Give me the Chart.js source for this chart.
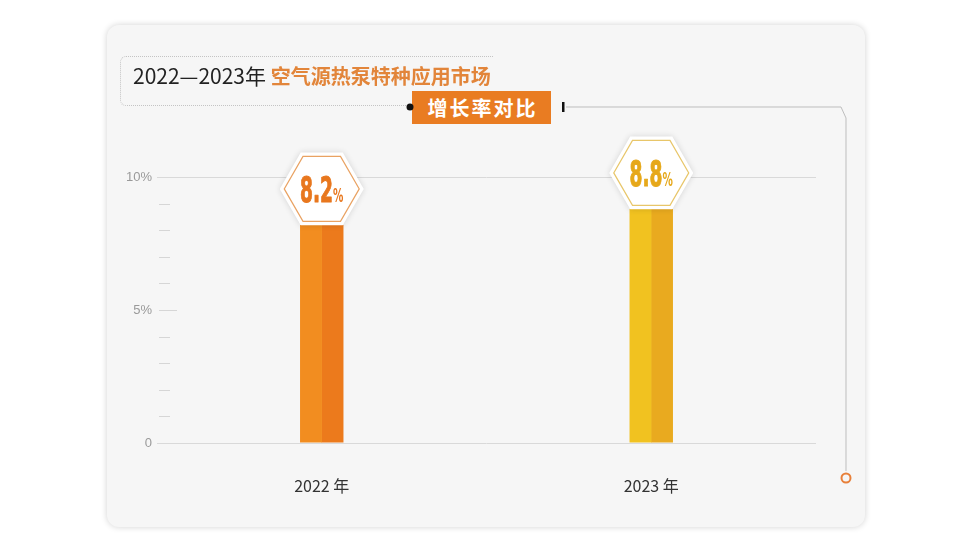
<!DOCTYPE html>
<html><head><meta charset="utf-8">
<script src="https://cdn.jsdelivr.net/npm/chart.js@4.4.1/dist/chart.umd.min.js"></script>
<style>
html,body{margin:0;padding:0;background:#fff;}
#wrap{position:relative;width:960px;height:540px;overflow:hidden;font-family:"Noto Sans CJK SC","Noto Sans",sans-serif;}
.card{position:absolute;left:107px;top:25px;width:758px;height:502px;background:#f6f6f6;border-radius:12px;box-shadow:0 0 6px rgba(0,0,0,0.18);}
#c{position:absolute;left:0;top:0;}
svg{position:absolute;left:0;top:0;}
.titlebox{position:absolute;left:120px;top:56px;width:373px;height:50px;border:1px dotted #c4c4c4;border-right:none;border-radius:6px 0 0 6px;box-sizing:border-box;}
.title{position:absolute;left:133px;top:61px;font-size:21px;color:#222;white-space:nowrap;line-height:28px;}
.title span{color:#e2853a;font-weight:700;font-size:20px;}
.tag{position:absolute;left:412px;top:91px;width:139px;height:33px;background:#e97c22;color:#fff;font-size:20px;font-weight:700;line-height:33px;text-align:center;letter-spacing:2px;text-indent:2px;}
</style>
</head>
<body>
<div id="wrap">
  <div class="card"></div>
  <canvas id="c" width="960" height="540"></canvas>
  <div class="titlebox"></div>
  <div class="title">2022—2023年 <span>空气源热泵特种应用市场</span></div>
  <div class="tag">增长率对比</div>
  <svg width="960" height="540">
    <polyline points="566,107 841,107 846,118 846,471" fill="none" stroke="#bdbdbd" stroke-width="1"/>
    <circle cx="410" cy="107" r="3.5" fill="#111"/>
    <rect x="562" y="102" width="2.5" height="10" fill="#111"/>
    <circle cx="846" cy="478" r="4.5" fill="none" stroke="#e8803a" stroke-width="2"/>
  </svg>
</div>
<script>
const categories = ['2022 年', '2023 年'];
const growthRate = [8.2, 8.8];
const yTickLabels = {0: '0', 5: '5%', 10: '10%'};

const palette = {
  left: ['#f28d20', '#f1c220'],
  right: ['#ec7a1c', '#e9aa1f'],
  label: ['#e8771e', '#e6a81a'],
  hexStroke: ['#e9a262', '#e8c66a']
};

function hexPath(ctx, cx, cy, r) {
  ctx.beginPath();
  for (let k = 0; k < 6; k++) {
    const a = Math.PI / 3 * k;
    const x = cx + r * Math.cos(a), y = cy + r * Math.sin(a);
    if (k === 0) ctx.moveTo(x, y); else ctx.lineTo(x, y);
  }
  ctx.closePath();
}

const minorTicks = {
  id: 'minorTicks',
  beforeDatasetsDraw(chart) {
    const ctx = chart.ctx, ys = chart.scales.y, left = chart.chartArea.left;
    ctx.save();
    ctx.strokeStyle = '#d6d6d6';
    ctx.lineWidth = 1;
    for (let v = 1; v <= 9; v++) {
      const y = Math.round(ys.getPixelForValue(v)) + 0.5;
      ctx.beginPath();
      ctx.moveTo(left + 2, y);
      ctx.lineTo(left + (v === 5 ? 20 : 13), y);
      ctx.stroke();
    }
    ctx.restore();
  }
};

const NUM_FONT = '"Liberation Sans Narrow", "DejaVu Sans Condensed", "DejaVu Sans"';
const hexLabels = {
  id: 'hexLabels',
  afterDatasetsDraw(chart) {
    const ctx = chart.ctx;
    const m0 = chart.getDatasetMeta(0), m1 = chart.getDatasetMeta(1);
    m0.data.forEach((b0, i) => {
      const b1 = m1.data[i];
      const cx = ((b0.x - b0.width / 2) + (b1.x + b1.width / 2)) / 2;
      const top = Math.min(b0.y, b1.y);
      const cy = top - 36;
      ctx.save();
      ctx.shadowColor = 'rgba(0,0,0,0.14)';
      ctx.shadowBlur = 6;
      hexPath(ctx, cx, cy, 42);
      ctx.fillStyle = '#ffffff';
      ctx.fill();
      ctx.restore();
      ctx.save();
      hexPath(ctx, cx, cy, 37.5);
      ctx.strokeStyle = palette.hexStroke[i];
      ctx.lineWidth = 1.2;
      ctx.stroke();
      const num = growthRate[i].toFixed(1);
      ctx.fillStyle = palette.label[i];
      ctx.strokeStyle = palette.label[i];
      ctx.lineWidth = 1;
      ctx.lineJoin = 'round';
      ctx.textBaseline = 'alphabetic';
      ctx.font = 'bold 36px ' + NUM_FONT;
      const wn = ctx.measureText(num).width;
      const targetW = 33;
      const sx = targetW / wn;
      ctx.font = 'bold 20px ' + NUM_FONT;
      const wp = ctx.measureText('%').width;
      const total = targetW + wp * sx;
      const x0 = cx - total / 2;
      const base = cy + 13;
      ctx.translate(x0, base);
      ctx.scale(sx, 1);
      ctx.font = 'bold 36px ' + NUM_FONT;
      ctx.fillText(num, 0, 0);
      ctx.strokeText(num, 0, 0);
      ctx.font = 'bold 20px ' + NUM_FONT;
      ctx.fillText('%', wn, 0);
      ctx.restore();
    });
  }
};

new Chart(document.getElementById('c'), {
  type: 'bar',
  data: {
    labels: categories,
    datasets: [
      {data: growthRate, backgroundColor: palette.left, borderWidth: 0, barPercentage: 1.02, categoryPercentage: 0.1305},
      {data: growthRate, backgroundColor: palette.right, borderWidth: 0, barPercentage: 1.02, categoryPercentage: 0.1305}
    ]
  },
  options: {
    responsive: false,
    animation: false,
    devicePixelRatio: 1,
    layout: {padding: {top: 177, right: 144, bottom: 0, left: 0}},
    plugins: {legend: {display: false}, tooltip: {enabled: false}},
    scales: {
      x: {
        grid: {display: false},
        border: {display: false},
        ticks: {color: '#333', padding: 25, font: {size: 16, family: '"Noto Sans CJK SC", "Noto Sans", sans-serif'}},
        afterFit: s => { s.height = 97; }
      },
      y: {
        min: 0, max: 10,
        border: {display: false},
        grid: {
          drawTicks: false,
          color: c => (c.tick && (c.tick.value === 0 || c.tick.value === 10)) ? '#d9d9d9' : 'rgba(0,0,0,0)'
        },
        ticks: {
          stepSize: 1,
          padding: 5,
          color: '#9a9a9a',
          font: {size: 13, family: '"Liberation Sans", Arial, sans-serif'},
          callback: v => (yTickLabels[v] !== undefined ? yTickLabels[v] : '')
        },
        afterFit: s => { s.width = 157; }
      }
    }
  },
  plugins: [minorTicks, hexLabels]
});
</script>
</body></html>
